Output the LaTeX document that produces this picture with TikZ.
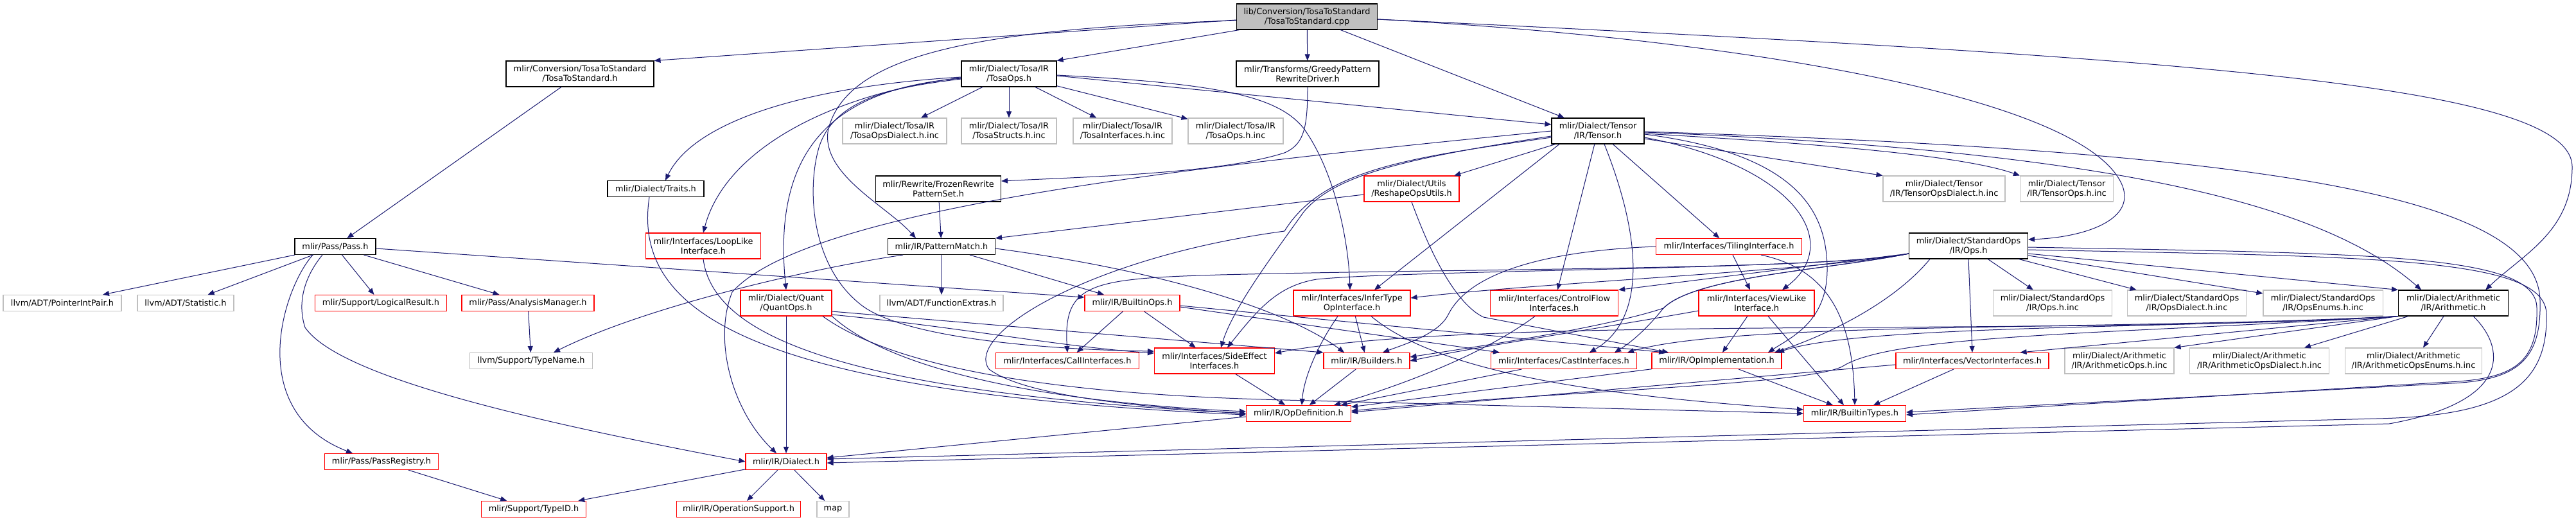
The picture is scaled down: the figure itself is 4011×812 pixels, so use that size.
\documentclass[tikz,border=0pt]{standalone}
\usepackage{fontspec}
\setmainfont{DejaVu Sans}
\usetikzlibrary{arrows.meta}
\definecolor{edgec}{HTML}{191970}
\definecolor{grayc}{HTML}{BFBFBF}
\definecolor{redc}{HTML}{FF0000}
\tikzset{
  nb/.style={draw=black, line width=1.1pt, fill=white, inner sep=0pt, align=center, font=\fontsize{12.9}{15}\selectfont},
  nr/.style={nb, draw=redc},
  ng/.style={nb, draw=grayc},
  nroot/.style={nb, fill=grayc},
  wh/.style 2 args={minimum width=#1pt, minimum height=#2pt},
  e/.style={draw=edgec, line width=1pt, -{Triangle[length=10pt,width=8pt]}},
}
\begin{document}
\begin{tikzpicture}[x=1pt,y=-1pt]
\fill[white] (0,0) rectangle (4011,812);
\useasboundingbox (0,0) rectangle (4011,812);
% ---------- nodes ----------
\node[nroot, wh={219}{40}] (root) at (2035,26) {lib/Conversion/TosaToStandard\\/TosaToStandard.cpp};
\node[nb, wh={230}{40}] (conv) at (903,115) {mlir/Conversion/TosaToStandard\\/TosaToStandard.h};
\node[nb, wh={148}{40}] (tosaops) at (1571,115) {mlir/Dialect/Tosa/IR\\/TosaOps.h};
\node[nb, wh={222}{40}] (greedy) at (2036,115) {mlir/Transforms/GreedyPattern\\RewriteDriver.h};
\node[ng, wh={162}{40}] (tosadial) at (1393,204) {mlir/Dialect/Tosa/IR\\/TosaOpsDialect.h.inc};
\node[ng, wh={148}{40}] (tosastruct) at (1571,204) {mlir/Dialect/Tosa/IR\\/TosaStructs.h.inc};
\node[ng, wh={154}{40}] (tosaiface) at (1748,204) {mlir/Dialect/Tosa/IR\\/TosaInterfaces.h.inc};
\node[ng, wh={148}{40}] (tosaopsinc) at (1924,204) {mlir/Dialect/Tosa/IR\\/TosaOps.h.inc};
\node[nb, wh={144}{40}] (tensor) at (2488,204) {mlir/Dialect/Tensor\\/IR/Tensor.h};
\node[nb, wh={150}{25}] (traits) at (1021,294) {mlir/Dialect/Traits.h};
\node[nb, wh={195}{40}] (frozen) at (1461,294) {mlir/Rewrite/FrozenRewrite\\PatternSet.h};
\node[nr, wh={148}{40}] (reshape) at (2198,294) {mlir/Dialect/Utils\\/ReshapeOpsUtils.h};
\node[ng, wh={190}{40}] (tensordial) at (3027,294) {mlir/Dialect/Tensor\\/IR/TensorOpsDialect.h.inc};
\node[ng, wh={145}{40}] (tensoropsinc) at (3218,294) {mlir/Dialect/Tensor\\/IR/TensorOps.h.inc};
\node[nb, wh={126}{25}] (pass) at (522,384) {mlir/Pass/Pass.h};
\node[nr, wh={179}{40}] (looplike) at (1095,383) {mlir/Interfaces/LoopLike\\Interface.h};
\node[nb, wh={167}{25}] (pattern) at (1466,384) {mlir/IR/PatternMatch.h};
\node[nr, wh={227}{25}] (tiling) at (2692,384) {mlir/Interfaces/TilingInterface.h};
\node[nb, wh={185}{40}] (stdops) at (3065,383) {mlir/Dialect/StandardOps\\/IR/Ops.h};
\node[ng, wh={184}{25}] (ptrint) at (97,472) {llvm/ADT/PointerIntPair.h};
\node[ng, wh={150}{25}] (statistic) at (289,472) {llvm/ADT/Statistic.h};
\node[nr, wh={205}{25}] (logical) at (593,472) {mlir/Support/LogicalResult.h};
\node[nr, wh={206}{25}] (analysis) at (822,472) {mlir/Pass/AnalysisManager.h};
\node[nr, wh={142}{40}] (quant) at (1224,472) {mlir/Dialect/Quant\\/QuantOps.h};
\node[ng, wh={192}{25}] (funcextras) at (1466,472) {llvm/ADT/FunctionExtras.h};
\node[nr, wh={148}{25}] (builtinops) at (1763,472) {mlir/IR/BuiltinOps.h};
\node[nr, wh={182}{40}] (infertype) at (2105,472) {mlir/Interfaces/InferType\\OpInterface.h};
\node[nr, wh={199}{40}] (controlflow) at (2420,472) {mlir/Interfaces/ControlFlow\\Interfaces.h};
\node[nr, wh={180}{40}] (viewlike) at (2735,472) {mlir/Interfaces/ViewLike\\Interface.h};
\node[ng, wh={185}{40}] (opsinc) at (3196,472) {mlir/Dialect/StandardOps\\/IR/Ops.h.inc};
\node[ng, wh={185}{40}] (opsdial) at (3405,472) {mlir/Dialect/StandardOps\\/IR/OpsDialect.h.inc};
\node[ng, wh={186}{40}] (opsenums) at (3617,472) {mlir/Dialect/StandardOps\\/IR/OpsEnums.h.inc};
\node[nb, wh={171}{40}] (arith) at (3820,472) {mlir/Dialect/Arithmetic\\/IR/Arithmetic.h};
\node[ng, wh={191}{25}] (typename) at (827,562) {llvm/Support/TypeName.h};
\node[nr, wh={223}{25}] (callif) at (1662,562) {mlir/Interfaces/CallInterfaces.h};
\node[nr, wh={187}{40}] (sideeffect) at (1891,562) {mlir/Interfaces/SideEffect\\Interfaces.h};
\node[nr, wh={134}{25}] (builders) at (2128,562) {mlir/IR/Builders.h};
\node[nr, wh={227}{25}] (castif) at (2435,562) {mlir/Interfaces/CastInterfaces.h};
\node[nr, wh={202}{25}] (opimpl) at (2673,562) {mlir/IR/OpImplementation.h};
\node[nr, wh={238}{25}] (vectorif) at (3071,562) {mlir/Interfaces/VectorInterfaces.h};
\node[ng, wh={170}{40}] (arithops) at (3300,562) {mlir/Dialect/Arithmetic\\/IR/ArithmeticOps.h.inc};
\node[ng, wh={217}{40}] (arithdial) at (3518,562) {mlir/Dialect/Arithmetic\\/IR/ArithmeticOpsDialect.h.inc};
\node[ng, wh={213}{40}] (arithenums) at (3758,562) {mlir/Dialect/Arithmetic\\/IR/ArithmeticOpsEnums.h.inc};
\node[nr, wh={163}{25}] (opdef) at (2022,644) {mlir/IR/OpDefinition.h};
\node[nr, wh={159}{25}] (builtintypes) at (2888,644) {mlir/IR/BuiltinTypes.h};
\node[nr, wh={177}{25}] (passreg) at (594,719) {mlir/Pass/PassRegistry.h};
\node[nr, wh={126}{25}] (dialect) at (1224,719) {mlir/IR/Dialect.h};
\node[nr, wh={163}{25}] (typeid) at (831,793) {mlir/Support/TypeID.h};
\node[nr, wh={193}{25}] (opsupport) at (1150,793) {mlir/IR/OperationSupport.h};
\node[ng, wh={50}{25}] (map) at (1297,793) {map};
% ---------- edges: root ----------
\draw[e] ([yshift=-5]root.west) -- (conv.north east);
\draw[e] ([xshift=5]root.south west) -- (tosaops.north east);
\draw[e] (root) -- (greedy);
\draw[e] (root) -- (tensor);
\draw[e] ([yshift=-6]root.west) .. controls (1500,45) and (1320,90) .. (1290,200) .. controls (1275,270) and (1380,320) .. ([xshift=-40]pattern.north);
\draw[e] ([yshift=-4]root.east) .. controls (2700,60) and (3250,150) .. (3305,290) .. controls (3325,345) and (3240,370) .. ([yshift=10]stdops.east);
\draw[e] ([yshift=-4]root.east) .. controls (3400,90) and (4005,130) .. (4005,260) .. controls (4005,360) and (3930,395) .. ([xshift=-36]arith.north east);
\draw[e] (conv) -- (pass);
% ---------- TosaOps ----------
\draw[e] (tosaops) -- (tosadial);
\draw[e] (tosaops) -- (tosastruct);
\draw[e] (tosaops) -- (tosaiface);
\draw[e] (tosaops) -- (tosaopsinc);
\draw[e] ([yshift=-3]tosaops.east) -- ([yshift=10]tensor.west);
\draw[e] ([yshift=-5]tosaops.west) .. controls (1250,135) and (1080,190) .. ([xshift=15]traits.north);
\draw[e] ([yshift=-6]tosaops.west) .. controls (1300,145) and (1130,230) .. (looplike.north);
\draw[e] ([yshift=-7]tosaops.west) .. controls (1270,140) and (1205,260) .. (quant.north);
\draw[e] ([yshift=-8]tosaops.west) .. controls (1400,135) and (1300,150) .. (1275,230) .. controls (1255,300) and (1265,420) .. (1345,478) .. controls (1420,530) and (1650,545) .. ([yshift=15]sideeffect.west);
\draw[e] ([yshift=-2]tosaops.east) .. controls (1900,130) and (1990,150) .. (2030,200) .. controls (2080,270) and (2100,380) .. ([xshift=-3]infertype.north);
\draw[e] (greedy.south) .. controls (2036,200) and (2030,225) .. (2000,238) .. controls (1900,270) and (1700,275) .. ([yshift=12]frozen.east);
\draw[e] (frozen) -- (pattern);
% ---------- Pass ----------
\draw[e] (pass) -- (ptrint);
\draw[e] (pass) -- (statistic);
\draw[e] (pass) -- (logical);
\draw[e] (pass) -- (analysis);
\draw[e] ([xshift=-35]pass.south) .. controls (440,450) and (380,640) .. ([xshift=-45]passreg.north);
\draw[e] ([xshift=-20]pass.south) .. controls (475,430) and (462,470) .. (475,510) .. controls (530,590) and (850,660) .. (dialect.west);
\draw[e] ([yshift=-3]pass.east) -- ([yshift=9]builtinops.west);
\draw[e] (analysis) -- (typename);
\draw[e] (passreg) -- (typeid);
% ---------- PatternMatch ----------
\draw[e] (pattern) -- (funcextras);
\draw[e] (pattern) -- (builtinops);
\draw[e] ([yshift=-3]pattern.east) .. controls (1800,420) and (2000,480) .. ([xshift=-35]builders.north);
\draw[e] ([xshift=-60]pattern.south) .. controls (1250,420) and (1000,480) .. ([xshift=35]typename.north);
\draw[e] ([xshift=-10]traits.south) .. controls (985,480) and (1150,610) .. ([yshift=-2]opdef.west);
\draw[e] (looplike.south) .. controls (1110,520) and (1300,610) .. (opdef.west);
% ---------- QuantOps ----------
\draw[e] (quant) -- (dialect);
\draw[e] ([yshift=-18]quant.east) .. controls (1500,510) and (1650,540) .. ([yshift=12]sideeffect.west);
\draw[e] (quant.south east) .. controls (1380,570) and (1600,625) .. ([yshift=3]opdef.west);
\draw[e] ([yshift=-13]quant.east) -- (builders.north west);
\draw[e] ([xshift=57]quant.south) .. controls (1430,600) and (1800,618) .. (2000,623) -- (builtintypes.west);
% ---------- Tensor ----------
\draw[e] (tensor) -- (reshape);
\draw[e] (tensor) -- (tiling);
\draw[e] ([yshift=-12]tensor.east) -- (tensordial.north west);
\draw[e] ([yshift=-4]tensor.east) .. controls (2800,222) and (3050,240) .. (tensoropsinc.north west);
\draw[e] ([yshift=-2]tensor.east) .. controls (3300,235) and (3620,320) .. ([xshift=-50]arith.north);
\draw[e] ([yshift=-1]tensor.east) .. controls (3500,235) and (3955,300) .. (3955,470) .. controls (3957,560) and (3920,592) .. (3817,597) -- ([yshift=2]builtintypes.east);
\draw[e] (tensor.west) .. controls (1900,255) and (1260,320) .. (1140,455) .. controls (1110,530) and (1140,640) .. ([xshift=-15]dialect.north);
\draw[e] ([yshift=-8]tensor.west) .. controls (2200,245) and (2080,270) .. (2030,330) .. controls (1980,400) and (1920,480) .. ([xshift=10]sideeffect.north);
\draw[e] ([yshift=-10]tensor.west) .. controls (2200,245) and (2060,262) .. (2000,360) .. controls (1700,400) and (1500,520) .. (1540,575) .. controls (1600,620) and (1800,635) .. (opdef.west);
\draw[e] ([xshift=-60]tensor.south) -- ([xshift=35]infertype.north);
\draw[e] (tensor) -- (controlflow);
\draw[e] ([xshift=10]tensor.south) .. controls (2560,380) and (2560,500) .. ([xshift=40]castif.north);
\draw[e] ([yshift=-10]tensor.east) .. controls (2800,260) and (2870,380) .. ([xshift=40]viewlike.north);
\draw[e] ([yshift=-5]tensor.east) .. controls (2800,240) and (2845,330) .. (2845,420) .. controls (2845,500) and (2790,525) .. ([xshift=80]opimpl.north);
% ---------- ReshapeOpsUtils / Tiling ----------
\draw[e] ([yshift=-9]reshape.west) -- (pattern.north east);
\draw[e] (reshape.south) .. controls (2240,430) and (2280,480) .. (2310,494) -- ([xshift=-75]opimpl.north);
\draw[e] (tiling.west) .. controls (2420,390) and (2290,420) .. (2255,490) .. controls (2240,520) and (2190,535) .. ([xshift=25]builders.north);
\draw[e] ([xshift=6]tiling.south) -- ([xshift=-10]viewlike.north);
\draw[e] ([xshift=50]tiling.south) .. controls (2850,420) and (2885,500) .. (builtintypes.north);
% ---------- interfaces ----------
\draw[e] ([xshift=-22]infertype.south) .. controls (2050,540) and (2030,590) .. ([xshift=5]opdef.north);
\draw[e] (infertype) -- (builders);
\draw[e] ([xshift=30]infertype.south) .. controls (2250,590) and (2550,620) .. ([yshift=6]builtintypes.west);
\draw[e] ([xshift=-30]controlflow.south) .. controls (2300,560) and (2150,610) .. ([xshift=55]opdef.north);
\draw[e] (viewlike) -- (opimpl);
\draw[e] ([xshift=18]viewlike.south) -- ([xshift=-17]builtintypes.north);
\draw[e] ([yshift=-12]viewlike.west) .. controls (2500,510) and (2300,540) .. (builders.east);
\draw[e] (castif) -- (opdef);
\draw[e] (opimpl) -- (opdef);
\draw[e] (opimpl) -- (builtintypes);
\draw[e] (builders) -- (opdef);
\draw[e] (sideeffect) -- (opdef);
\draw[e] (builtinops) -- (callif);
\draw[e] (builtinops) -- (sideeffect);
\draw[e] ([yshift=-6]builtinops.east) -- ([xshift=-100]castif.north);
\draw[e] ([yshift=-4]builtinops.east) -- ([xshift=-80]opimpl.north);
% ---------- StandardOps ----------
\draw[e] (stdops) -- (opsinc);
\draw[e] (stdops) -- (opsdial);
\draw[e] (stdops) -- (opsenums);
\draw[e] ([yshift=-12]stdops.east) -- (arith.north west);
\draw[e] (stdops.south) -- (vectorif.north);
\draw[e] ([yshift=-12]stdops.west) .. controls (2850,420) and (2300,418) .. (1900,428) .. controls (1700,434) and (1655,440) .. (callif.north);
\draw[e] ([yshift=-12]stdops.west) .. controls (2850,420) and (2200,420) .. (2050,435) .. controls (1990,445) and (1960,480) .. ([xshift=20]sideeffect.north);
\draw[e] ([yshift=-12]stdops.west) .. controls (2850,420) and (2400,440) .. ([yshift=8]infertype.east);
\draw[e] ([yshift=-12]stdops.west) -- (controlflow.north east);
\draw[e] ([yshift=-12]stdops.west) .. controls (2850,420) and (2640,430) .. (2590,480) .. controls (2500,510) and (2300,540) .. ([yshift=6]builders.east);
\draw[e] ([yshift=-12]stdops.west) .. controls (2850,420) and (2640,430) .. (2590,480) .. controls (2570,505) and (2545,530) .. ([xshift=-35]castif.north east);
\draw[e] ([xshift=-60]stdops.south) .. controls (2950,470) and (2850,520) .. ([xshift=90]opimpl.north);
\draw[e] ([yshift=-2]stdops.east) .. controls (3700,395) and (3950,395) .. (3950,480) .. controls (3952,565) and (3915,590) .. (3812,595) -- ([yshift=-2]builtintypes.east);
\draw[e] ([yshift=-6]stdops.east) .. controls (3700,400) and (3965,400) .. (3965,490) .. controls (3967,600) and (3900,648) .. (3700,652) -- ([yshift=4]dialect.east);
% ---------- Arithmetic ----------
\draw[e] (arith.south west) -- (arithops.north east);
\draw[e] ([xshift=-70]arith.south) -- ([xshift=70]arithdial.north);
\draw[e] ([xshift=-15]arith.south) -- ([xshift=15]arithenums.north);
\draw[e] (arith.south west) -- ([xshift=-45]vectorif.north east);
\draw[e] (arith.south west) .. controls (3400,512) and (2900,505) .. ([xshift=95]opimpl.north);
\draw[e] (arith.south west) .. controls (3300,515) and (2700,500) .. ([xshift=-15]castif.north east);
\draw[e] (arith.south west) .. controls (3200,525) and (2300,490) .. ([yshift=12]sideeffect.east);
\draw[e] (arith.south west) .. controls (3300,520) and (2950,520) .. (2870,570) .. controls (2820,600) and (2400,610) .. ([yshift=4]opdef.east);
\draw[e] ([xshift=-55]arith.south east) .. controls (3900,540) and (3915,625) .. (3720,660) -- ([yshift=-2]dialect.east);
% ---------- lower ----------
\draw[e] ([yshift=-6]vectorif.west) -- ([yshift=2]opdef.east);
\draw[e] (vectorif) -- (builtintypes);
\draw[e] ([yshift=-5]opdef.west) -- ([yshift=6]dialect.east);
\draw[e] (dialect) -- (typeid);
\draw[e] (dialect) -- (opsupport);
\draw[e] (dialect) -- (map);
\end{tikzpicture}
\end{document}
